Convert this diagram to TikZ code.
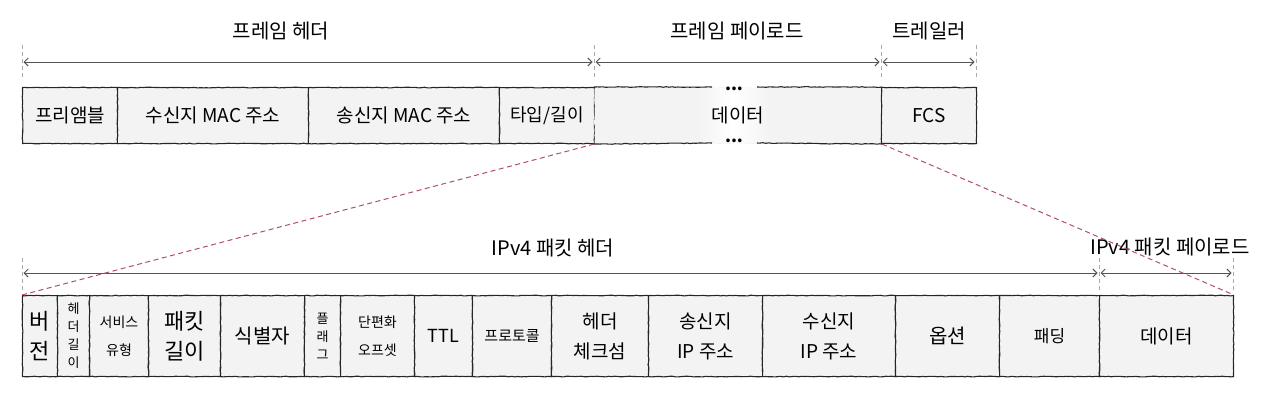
\documentclass[tikz,border=0pt]{standalone}
\usepackage{fontspec}
\setmainfont{Noto Sans CJK KR}
\usetikzlibrary{arrows.meta,decorations.pathmorphing}
\definecolor{cellfill}{HTML}{F3F3F3}
\definecolor{arrowgray}{HTML}{555555}
\definecolor{tickgray}{HTML}{ABABAB}
\definecolor{linkred}{HTML}{B24F66}
\begin{document}
\begin{tikzpicture}[x=1pt,y=-1pt,
  rough/.style={decorate,decoration={random steps,segment length=3pt,amplitude=0.35pt}},
  cell/.style={draw=black!85, line width=1.1pt, fill=cellfill, anchor=north west, inner sep=0pt, align=center, rough},
  toprow/.style={cell, minimum height=56pt, font=\fontsize{19}{22}\selectfont},
  botrow/.style={cell, minimum height=81pt},
  big/.style={font=\fontsize{22}{30}\selectfont},
  mid/.style={font=\fontsize{18}{30}\selectfont},
  small/.style={font=\fontsize{14}{28}\selectfont},
  tiny/.style={font=\fontsize{13}{18}\selectfont},
  dimline/.style={draw=arrowgray, line width=1pt, {Straight Barb[length=4pt,width=8pt]}-{Straight Barb[length=4pt,width=8pt]}, shorten <=1.5pt, shorten >=1.5pt},
  tick/.style={draw=tickgray, line width=0.8pt, dash pattern=on 4pt off 3pt},
  link/.style={draw=linkred, line width=1pt, dash pattern=on 5pt off 3.5pt},
  label/.style={font=\fontsize{20}{22}\selectfont, inner sep=0pt},
  dots/.style={font=\fontsize{17}{18}\selectfont\bfseries, inner sep=0pt, anchor=base}
]
\useasboundingbox (0,0) rectangle (1280,400);

% ---------- top row ----------
\node[toprow, minimum width=95pt]  (pre)  at (22,87)  {프리앰블};
\node[toprow, minimum width=191pt] (dmac) at (117,87) {수신지 MAC 주소};
\node[toprow, minimum width=191pt] (smac) at (308,87) {송신지 MAC 주소};
\node[toprow, minimum width=95pt, font=\fontsize{18}{22}\selectfont]  (type) at (499,87) {타입/길이};
\node[toprow, draw=none, minimum width=287pt] (fdata) at (594,87) {};
\node[toprow, minimum width=95pt]  (fcs)  at (881,87) {FCS};
% fade around the dots
\shade[left color=cellfill, right color=white] (698,88) rectangle (733,142);
\shade[left color=white, right color=cellfill] (733,88) rectangle (770,142);
\node[font=\fontsize{19}{22}\selectfont, inner sep=0pt] (dtxt) at (fdata.center) {데이터};
% borders of the data field with a gap for the dots
\coordinate (gtl) at (712,87);  \coordinate (gtr) at (757,87);
\coordinate (gbl) at (712,143); \coordinate (gbr) at (757,143);
\draw[draw=black!85, line width=1.1pt, rough] (fdata.north west) -- (gtl);
\draw[draw=black!85, line width=1.1pt, rough] (gtr) -- (fdata.north east);
\draw[draw=black!85, line width=1.1pt, rough] (fdata.south west) -- (gbl);
\draw[draw=black!85, line width=1.1pt, rough] (gbr) -- (fdata.south east);
\node[dots] (dt) at (734,90) {...};
\node[dots] (db) at (734,142) {...};

% top dimension ticks and arrows
\foreach \n/\x in {a/22,b/594,c/881,d/976}{
  \coordinate (t\n) at (\x,45); \coordinate (b\n) at (\x,80); \coordinate (m\n) at (\x,62);
  \draw[tick] (t\n) -- (b\n);
}
\draw[dimline] (ma) -- (mb);
\draw[dimline] (mb) -- (mc);
\draw[dimline] (mc) -- (md);
\node[label] (lh) at (281,31) {프레임 헤더};
\node[label] (lp) at (737,31) {프레임 페이로드};
\node[label] (lt) at (929,31) {트레일러};

% ---------- bottom row ----------
\node[botrow, big,  minimum width=35pt]  (ver)  at (22,295)   {버\\전};
\node[botrow, tiny, minimum width=32pt]  (ihl)  at (57,295)   {헤\\더\\길\\이};
\node[botrow, small,minimum width=59pt]  (tos)  at (89,295)   {서비스\\유형};
\node[botrow, big,  minimum width=72pt]  (tlen) at (148,295)  {패킷\\길이};
\node[botrow, font=\fontsize{20}{30}\selectfont, minimum width=84pt]  (id)   at (220,295)  {식별자};
\node[botrow, tiny, minimum width=36pt]  (flag) at (304,295)  {플\\래\\그};
\node[botrow, small,minimum width=74pt]  (frag) at (340,295)  {단편화\\오프셋};
\node[botrow, mid,  minimum width=58pt]  (ttl)  at (414,295)  {TTL};
\node[botrow, font=\fontsize{15}{30}\selectfont, minimum width=79pt]  (prot) at (472,295)  {프로토콜};
\node[botrow, font=\fontsize{19}{30}\selectfont, minimum width=97pt] (csum) at (551,295) {헤더\\체크섬};
\node[botrow, font=\fontsize{19}{30}\selectfont, minimum width=114pt] (sip) at (648,295) {송신지\\IP 주소};
\node[botrow, font=\fontsize{19}{30}\selectfont, minimum width=133pt] (dip) at (762,295) {수신지\\IP 주소};
\node[botrow, font=\fontsize{20}{30}\selectfont, minimum width=104pt] (opt)  at (895,295)  {옵션};
\node[botrow, font=\fontsize{17}{30}\selectfont, minimum width=100pt] (pad)  at (999,295)  {패딩};
\node[botrow, font=\fontsize{19}{30}\selectfont, minimum width=134pt] (pdata) at (1099,295) {데이터};

% bottom dimension ticks and arrows
\foreach \n/\x in {e/22,f/1099,g/1233}{
  \coordinate (t\n) at (\x,258); \coordinate (b\n) at (\x,292); \coordinate (m\n) at (\x,273);
  \draw[tick] (t\n) -- (b\n);
}
\draw[dimline] (me) -- (mf);
\draw[dimline] (mf) -- (mg);
\node[label] (lih) at (553,248) {IPv4 패킷 헤더};
\node[label] (lip) at (1170,247) {IPv4 패킷 페이로드};

% zoom connectors
\draw[link] (fdata.south west) -- (ver.north west);
\draw[link] (fdata.south east) -- (pdata.north east);
\end{tikzpicture}
\end{document}
